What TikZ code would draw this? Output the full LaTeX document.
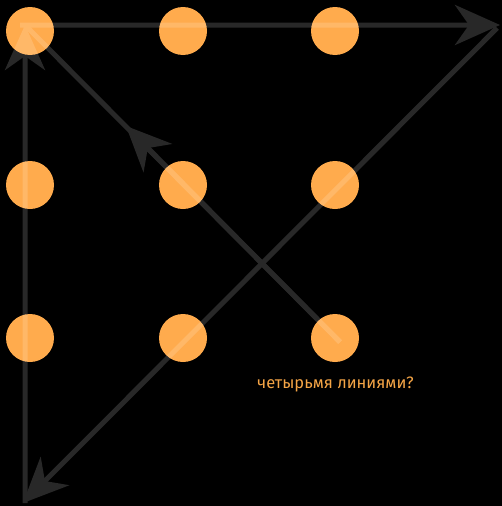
\documentclass[tikz,border=0pt]{standalone}
\usepackage{fontspec}
\setmainfont{Fira Sans}
\usetikzlibrary{arrows.meta}
\definecolor{dotorange}{RGB}{255,171,77}
\definecolor{textorange}{RGB}{245,165,70}
\begin{document}
\begin{tikzpicture}[x=1pt,y=-1pt,
  dot/.style={circle,fill=dotorange,minimum size=48pt,inner sep=0pt},
  stroke/.style={draw=white,line width=5pt},
  tip/.style={-{Stealth[length=45pt,width=40pt,inset=14pt]}}]
  \fill[black] (0,0) rectangle (502,506);
  \useasboundingbox (0,0) rectangle (502,506);
  % three-by-three grid of dots
  \node[dot] (d11) at (30,31) {};
  \node[dot] (d12) at (183,31) {};
  \node[dot] (d13) at (335,31) {};
  \node[dot] (d21) at (30,185) {};
  \node[dot] (d22) at (183,185) {};
  \node[dot] (d23) at (335,185) {};
  \node[dot] (d31) at (30,338) {};
  \node[dot] (d32) at (183,338) {};
  \node[dot] (d33) at (335,338) {};
  % path corners
  \coordinate (corner) at (25,25);
  \coordinate (topright) at (500,25);
  \coordinate (diagstart) at (497,28);
  \coordinate (bottomleft) at (23,503);
  \coordinate (bottomstart) at (25,503);
  \coordinate (start) at (340,342);
  \coordinate (midtip) at (126,126);
  \coordinate (hstart) at (20,25);
  % the four strokes, drawn as one translucent layer
  \begin{scope}[transparency group,opacity=0.155]
    \draw[stroke] (start) -- (corner);
    \draw[stroke,tip] (start) -- (midtip);
    \draw[stroke,tip] (hstart) -- (topright);
    \draw[stroke,tip] (diagstart) -- (bottomleft);
    \draw[stroke,tip] (bottomstart) -- (corner);
  \end{scope}
  \node[anchor=base west,text=textorange,font=\fontsize{16.5pt}{19pt}\selectfont,inner sep=0pt] (question) at (257,388.5) {четырьмя линиями?};
\end{tikzpicture}
\end{document}
